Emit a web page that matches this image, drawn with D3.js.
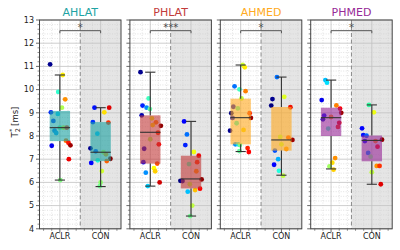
<!DOCTYPE html>
<html><head><meta charset="utf-8">
<script src="https://cdn.jsdelivr.net/npm/d3@7"></script>
<style>body{margin:0;background:#fff}svg{display:block;font-family:"DejaVu Sans",sans-serif}</style>
</head><body><svg id="c" width="400" height="250"></svg>
<script>
const regions = ['AHLAT','PHLAT','AHMED','PHMED'];
const groups = ['ACLR','CON'];
const regionColors = ['#1fa3a3','#c23b3b','#ffaa22','#972a97'];
const sigLabels = ['*','***','*','*'];
const yTicks = [4,5,6,7,8,9,10,11,12,13];

// points: [T2* value, horizontal jitter (category units), subject colour]
const AHLAT_ACLR = [[11.09,-0.24,'#00008f'],[10.63,0.07,'#ffef00'],[9.90,-0.04,'#30ffcf'],[9.58,0.13,'#ff9000'],[9.22,0.05,'#afff50'],[9.02,-0.22,'#0020ff'],[8.95,-0.05,'#00d0ff'],[8.65,-0.16,'#0040ff'],[8.23,-0.13,'#0080ff'],[8.13,-0.09,'#00a0ff'],[8.36,0.0,'#60ff9f'],[8.36,0.09,'#dfff20'],[8.36,0.17,'#ff3000'],[7.80,0.15,'#ff7000'],[7.71,0.21,'#ff1000'],[7.60,0.26,'#9f0000'],[7.58,-0.2,'#0000ef'],[7.00,0.22,'#ef0000'],[6.10,0.01,'#80ff80']];
const AHLAT_CON = [[9.22,-0.15,'#0010ff'],[9.22,0.21,'#df0000'],[9.02,0.09,'#ffdf00'],[8.60,-0.19,'#0030ff'],[8.58,0.19,'#ff3000'],[8.10,-0.08,'#00c0ff'],[7.47,-0.25,'#000090'],[7.34,-0.12,'#0050ff'],[7.30,0.07,'#bfff40'],[7.21,0.13,'#ff9f00'],[7.02,0.24,'#800000'],[6.92,0.15,'#ff6000'],[6.95,-0.07,'#20ffdf'],[6.84,-0.23,'#0000ff'],[6.49,0.03,'#cfff30'],[6.00,0.0,'#90ff70'],[5.84,-0.02,'#70ff90']];
const PHLAT_ACLR = [[10.75,-0.24,'#00008f'],[9.62,-0.04,'#40ffbf'],[9.31,-0.19,'#0020ff'],[9.22,-0.09,'#0090ff'],[9.16,-0.01,'#60ff9f'],[8.89,-0.21,'#0000b0'],[8.76,0.04,'#efff10'],[8.59,0.14,'#ff8000'],[8.47,0.06,'#ffe000'],[8.44,0.26,'#900000'],[8.14,0.19,'#ff3000'],[7.86,0.0,'#a0ff60'],[7.64,0.21,'#ff0000'],[7.45,-0.15,'#0000d0'],[6.87,-0.17,'#0000ff'],[6.81,0.17,'#ff5000'],[6.61,0.09,'#ffff00'],[6.48,0.12,'#ffd000'],[6.42,-0.11,'#0090ff'],[6.00,0.23,'#cf0000'],[5.84,-0.06,'#00d0ff']];
const PHLAT_CON = [[8.63,-0.17,'#0000ff'],[8.07,-0.1,'#0070ff'],[7.61,-0.14,'#0020ff'],[7.31,0.07,'#efff10'],[7.15,0.19,'#ef0000'],[6.87,0.15,'#ff3000'],[6.79,-0.05,'#40ffbf'],[6.48,0.13,'#ff9000'],[6.07,-0.26,'#000080'],[6.06,-0.21,'#0000a0'],[6.13,0.26,'#900000'],[5.92,-0.03,'#b0ff50'],[5.73,0.22,'#ff0000'],[5.67,0.1,'#ffc000'],[5.60,-0.08,'#00c0ff'],[5.00,0.03,'#c0ff40'],[4.55,-0.02,'#70ff90']];
const AHMED_ACLR = [[11.06,0.05,'#cfff30'],[10.96,0.1,'#ffef00'],[10.14,-0.15,'#0070ff'],[10.01,-0.03,'#40ffbf'],[9.93,0.12,'#ff8000'],[9.62,0.02,'#bfff40'],[9.26,-0.18,'#0000c0'],[9.19,-0.07,'#50ffaf'],[8.98,-0.23,'#000080'],[8.98,0.22,'#ff3000'],[8.78,-0.2,'#0000e0'],[8.78,0.25,'#a00000'],[8.55,-0.1,'#30ffcf'],[8.23,-0.26,'#000090'],[8.26,0.07,'#ffe000'],[7.64,-0.13,'#0090ff'],[7.64,-0.06,'#00e0ff'],[7.61,-0.02,'#70ff90'],[7.48,0.17,'#ff2000'],[7.31,0.2,'#ff0000'],[7.35,-0.03,'#60ff9f']];
const AHMED_CON = [[10.54,-0.11,'#0070ff'],[9.69,0.07,'#dfff20'],[9.59,-0.22,'#000090'],[9.31,-0.25,'#000080'],[9.24,0.22,'#ef1000'],[7.96,-0.03,'#b0ff50'],[7.93,0.17,'#ff5000'],[7.83,0.27,'#a00000'],[7.64,0.0,'#c0ff40'],[7.44,0.12,'#ff9000'],[7.37,-0.16,'#0050ff'],[7.00,-0.08,'#00b0ff'],[6.76,-0.18,'#0000ff'],[6.50,-0.06,'#20ffdf'],[6.29,0.04,'#c0ff40']];
const PHMED_ACLR = [[10.41,-0.14,'#00c0ff'],[10.30,-0.1,'#00e0ff'],[9.55,-0.23,'#0000ef'],[9.32,0.13,'#ff8000'],[9.18,0.22,'#ff0000'],[9.00,0.25,'#a00000'],[8.88,-0.17,'#0000ff'],[8.82,0.0,'#ff9000'],[8.72,-0.2,'#0000c0'],[8.57,0.2,'#ef0000'],[8.39,0.17,'#ff2000'],[8.32,-0.07,'#40ffbf'],[7.05,0.1,'#ff9000'],[6.85,0.03,'#ffe000'],[6.69,-0.04,'#a0ff60'],[6.55,0.06,'#ffd000']];
const PHMED_CON = [[9.34,-0.07,'#30ffa0'],[9.02,0.05,'#efff10'],[8.33,-0.24,'#0000ff'],[8.04,-0.21,'#0010ff'],[8.01,-0.13,'#0060ff'],[7.84,0.25,'#900000'],[7.78,-0.17,'#0000ff'],[7.78,0.09,'#ff8000'],[7.54,0.14,'#ff0000'],[7.27,-0.09,'#0080ff'],[7.11,-0.03,'#80ff80'],[6.71,0.12,'#ff9000'],[6.71,0.19,'#ff3000'],[6.44,0.0,'#c0ff40'],[5.92,0.22,'#df0000']];
const points = [[AHLAT_ACLR,AHLAT_CON],[PHLAT_ACLR,PHLAT_CON],[AHMED_ACLR,AHMED_CON],[PHMED_ACLR,PHMED_CON]];

// box statistics per region: [ACLR, CON]
const whiskerLow  = [[6.10,5.82],[5.84,4.55],[7.33,6.31],[6.58,5.92]];
const q1          = [[7.78,6.92],[6.81,5.74],[7.64,7.37],[8.00,6.91]];
const median      = [[8.36,7.30],[8.16,6.15],[8.79,7.83],[8.79,7.81]];
const q3          = [[9.08,8.60],[8.89,7.15],[9.61,9.25],[9.22,8.02]];
const whiskerHigh = [[10.63,9.22],[10.75,8.63],[11.06,10.54],[10.41,9.34]];

const svg = d3.select('#c');
const y = d3.scaleLinear().domain([4,13]).range([228.8,20]);
const W = 81.5, step = 90.4, left0 = 39.5;
const minorY = d3.range(4,13.001,0.2).filter(v=>Math.abs(v-Math.round(v))>1e-6);
const minorX = [-0.4,-0.2,0.2,0.4,0.6,0.8,1.2,1.4];
const dark = '#444';

regions.forEach((reg,i)=>{
  const L = left0 + i*step;
  const x = d3.scaleLinear().domain([-0.5,1.5]).range([L, L+W]);
  const g = svg.append('g');
  g.append('rect').attr('x',x(-0.5)).attr('y',y(13)).attr('width',W).attr('height',y(4)-y(13)).attr('fill','#fff');
  g.append('rect').attr('x',x(0.5)).attr('y',y(13)).attr('width',x(1.5)-x(0.5)).attr('height',y(4)-y(13)).attr('fill','#e5e5e5');
  // minor grid
  g.selectAll('.mgy').data(minorY).enter().append('line')
    .attr('x1',x(-0.5)).attr('x2',x(1.5)).attr('y1',d=>y(d)).attr('y2',d=>y(d))
    .attr('stroke','#cfcfcf').attr('stroke-width',0.6).attr('stroke-dasharray','1,1.5');
  g.selectAll('.mgx').data(minorX).enter().append('line')
    .attr('x1',d=>x(d)).attr('x2',d=>x(d)).attr('y1',y(13)).attr('y2',y(4))
    .attr('stroke','#cfcfcf').attr('stroke-width',0.6).attr('stroke-dasharray','1,1.5');
  // major grid
  g.selectAll('.gy').data(yTicks).enter().append('line')
    .attr('x1',x(-0.5)).attr('x2',x(1.5)).attr('y1',d=>y(d)).attr('y2',d=>y(d))
    .attr('stroke','#c2c2c2').attr('stroke-width',0.8);
  g.selectAll('.gx').data([0,1]).enter().append('line')
    .attr('x1',d=>x(d)).attr('x2',d=>x(d)).attr('y1',y(13)).attr('y2',y(4))
    .attr('stroke','#c2c2c2').attr('stroke-width',0.8);
  // separator
  g.append('line').attr('x1',x(0.5)).attr('x2',x(0.5)).attr('y1',y(13)).attr('y2',y(4))
    .attr('stroke','#8a8a8a').attr('stroke-width',1).attr('stroke-dasharray','4,2.5');
  groups.forEach((grp,j)=>{
    g.selectAll('.pt'+j).data(points[i][j]).enter().append('circle')
      .attr('cx',d=>x(j+d[1])).attr('cy',d=>y(d[0])).attr('r',2.4).attr('fill',d=>d[2]);
  });
  groups.forEach((grp,j)=>{
    g.append('rect').attr('x',x(j-0.25)).attr('width',x(j+0.25)-x(j-0.25))
      .attr('y',y(q3[i][j])).attr('height',y(q1[i][j])-y(q3[i][j]))
      .attr('fill',regionColors[i]).attr('fill-opacity',0.62);
    const wk = g.append('g').attr('stroke','#333').attr('stroke-width',1.1);
    wk.append('line').attr('x1',x(j)).attr('x2',x(j)).attr('y1',y(q3[i][j])).attr('y2',y(whiskerHigh[i][j]));
    wk.append('line').attr('x1',x(j)).attr('x2',x(j)).attr('y1',y(q1[i][j])).attr('y2',y(whiskerLow[i][j]));
    [whiskerHigh[i][j],whiskerLow[i][j]].forEach(v=>{
      wk.append('line').attr('x1',x(j-0.125)).attr('x2',x(j+0.125)).attr('y1',y(v)).attr('y2',y(v));
    });
    wk.append('line').attr('x1',x(j-0.25)).attr('x2',x(j+0.25)).attr('y1',y(median[i][j])).attr('y2',y(median[i][j]));
  });
  // frame
  g.append('rect').attr('x',x(-0.5)).attr('y',y(13)).attr('width',W).attr('height',y(4)-y(13))
    .attr('fill','none').attr('stroke',dark).attr('stroke-width',1);
  // y ticks
  g.selectAll('.ty').data(yTicks).enter().append('line')
    .attr('x1',x(-0.5)-3.5).attr('x2',x(-0.5)).attr('y1',d=>y(d)).attr('y2',d=>y(d)).attr('stroke',dark).attr('stroke-width',0.8);
  g.selectAll('.tmy').data(minorY).enter().append('line')
    .attr('x1',x(-0.5)-2).attr('x2',x(-0.5)).attr('y1',d=>y(d)).attr('y2',d=>y(d)).attr('stroke',dark).attr('stroke-width',0.6);
  g.selectAll('.tx').data([0,1]).enter().append('line')
    .attr('x1',d=>x(d)).attr('x2',d=>x(d)).attr('y1',y(4)).attr('y2',y(4)+3.5).attr('stroke',dark).attr('stroke-width',0.8);
  g.selectAll('.tmx').data(minorX).enter().append('line')
    .attr('x1',d=>x(d)).attr('x2',d=>x(d)).attr('y1',y(4)).attr('y2',y(4)+2).attr('stroke',dark).attr('stroke-width',0.6);
  if(i===0){
    g.selectAll('.ly').data(yTicks).enter().append('text')
      .attr('x',x(-0.5)-5.5).attr('y',d=>y(d)).attr('dy','0.35em').attr('text-anchor','end')
      .attr('font-size',8).attr('fill','#222').text(d=>d);
  }
  g.selectAll('.lx').data(groups).enter().append('text')
    .attr('x',(d,k)=>x(k)).attr('y',239.3).attr('text-anchor','middle')
    .attr('font-size',8).attr('fill','#222').text(d=>d);
  // title
  g.append('text').attr('x',x(0.5)).attr('y',16).attr('text-anchor','middle')
    .attr('font-size',11).attr('fill',regionColors[i]).text(reg);
  // significance bracket
  g.append('path').attr('d',`M${x(0)},${y(12.43)}V${y(12.54)}H${x(1)}V${y(12.43)}`)
    .attr('fill','none').attr('stroke','#555').attr('stroke-width',1);
  g.append('text').attr('x',x(0.5)).attr('y',31).attr('text-anchor','middle')
    .attr('font-size',10).attr('fill','#444').text(sigLabels[i]);
});

const yl = svg.append('text').attr('transform','translate(18,122) rotate(-90)')
  .attr('text-anchor','middle').attr('font-size',8.5).attr('fill','#222');
yl.append('tspan').text('T');
yl.append('tspan').attr('font-size',6.5).attr('dy',2.2).text('2');
yl.append('tspan').attr('font-size',6.5).attr('dx',-3.8).attr('dy',-6).text('*');
yl.append('tspan').attr('dy',3.8).text(' [ms]');
</script></body></html>
